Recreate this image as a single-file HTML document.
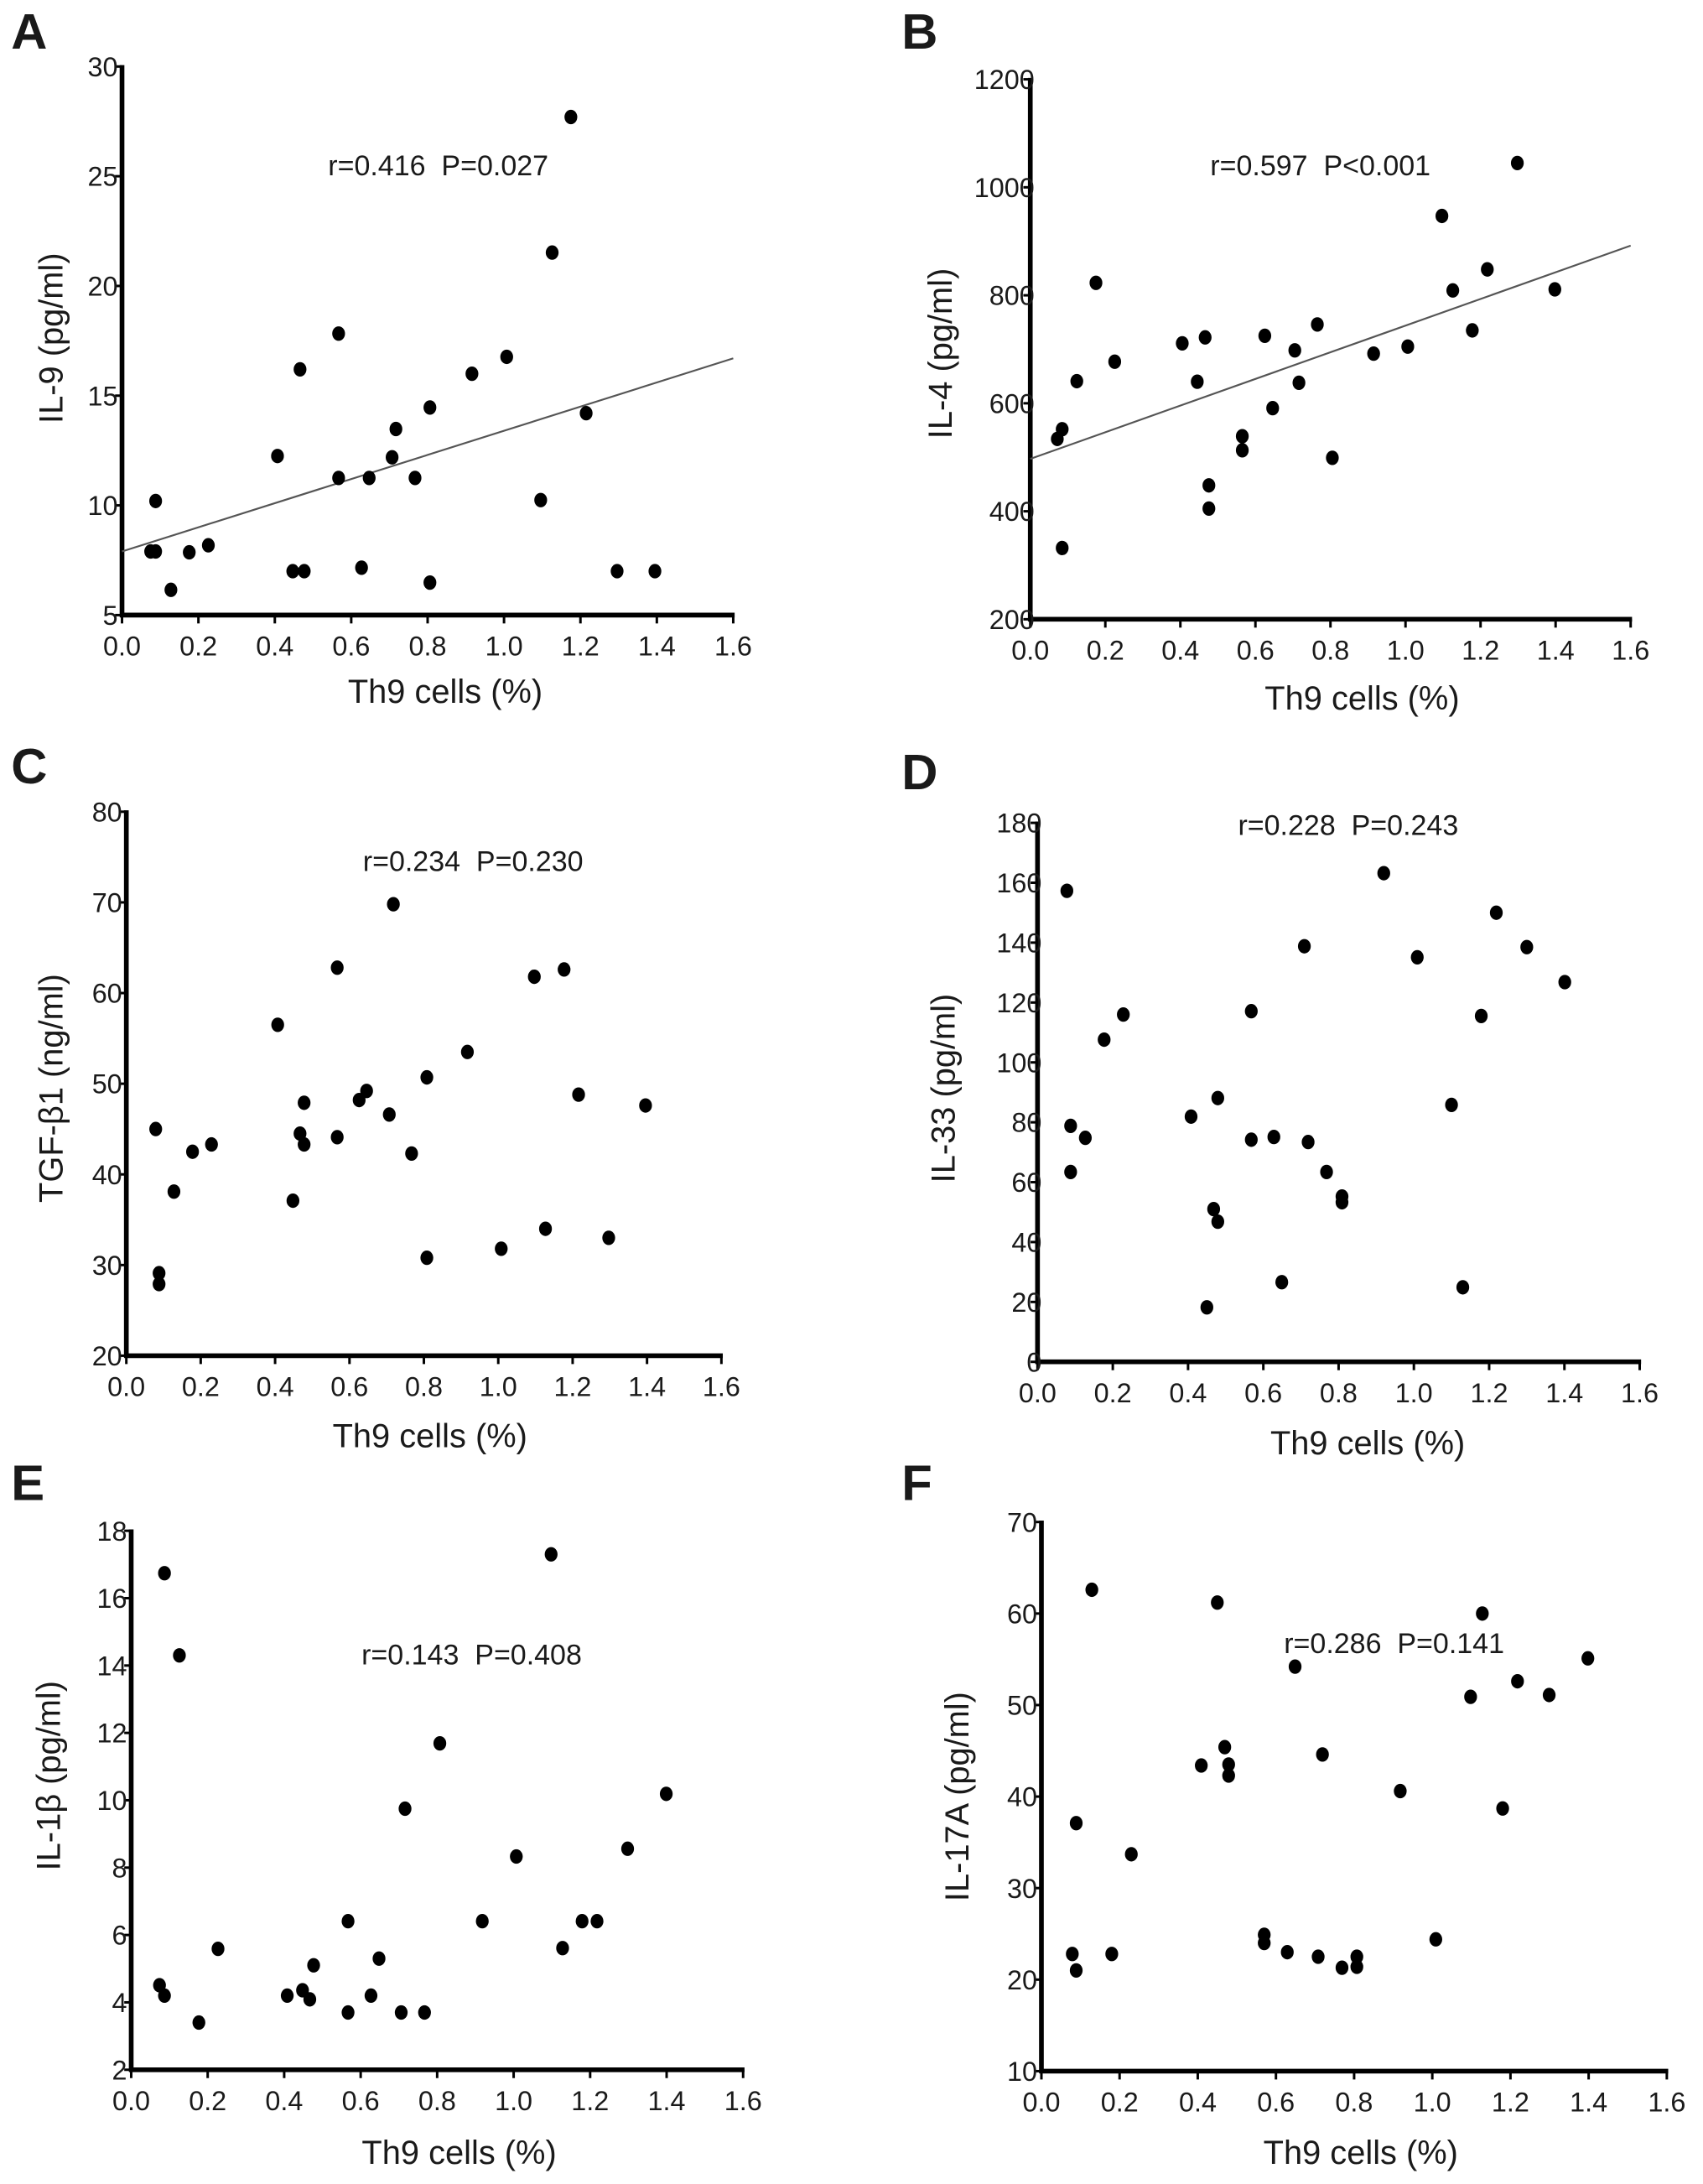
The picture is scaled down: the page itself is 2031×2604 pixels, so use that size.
<!DOCTYPE html>
<html><head><meta charset="utf-8"><style>
html,body{margin:0;padding:0;background:#fff;}
svg{display:block;}
text{font-family:"Liberation Sans",Arial,sans-serif;fill:#1a1a1a;}
.pre{white-space:pre;}
</style></head><body>
<svg id="fig" width="2031" height="2604" viewBox="0 0 1224 1569.4" preserveAspectRatio="none" xmlns="http://www.w3.org/2000/svg"></svg>
<script>
// ---- data ----
const xTicks = ["0.0","0.2","0.4","0.6","0.8","1.0","1.2","1.4","1.6"];

const aX = [0.075,0.088,0.088,0.128,0.176,0.226,0.407,0.447,0.477,0.466,0.567,0.567,0.627,0.647,0.707,0.717,0.767,0.806,0.806,0.916,1.007,1.096,1.126,1.175,1.215,1.296,1.395];
const aY = [7.9,7.9,10.2,6.15,7.86,8.18,12.25,7.0,7.0,16.2,17.83,11.25,7.16,11.25,12.19,13.48,11.25,14.46,6.48,16.0,16.77,10.24,21.52,27.7,14.2,7.0,7.0];
const aYTicks = [5,10,15,20,25,30];
const aLine = [7.9,16.7];

const bX = [0.072,0.085,0.085,0.124,0.175,0.225,0.405,0.445,0.466,0.476,0.476,0.565,0.565,0.625,0.646,0.705,0.716,0.765,0.805,0.915,1.006,1.097,1.126,1.178,1.218,1.298,1.398];
const bY = [534,552,332,641,823,677,711,640,722,448,405,539,513,725,591,698,638,746,499,692,705,947,809,735,848,1045,811];
const bYTicks = [200,400,600,800,1000,1200];
const bLine = [497,892];

const cX = [0.079,0.088,0.088,0.128,0.178,0.229,0.407,0.448,0.467,0.478,0.478,0.567,0.567,0.626,0.646,0.707,0.718,0.767,0.808,0.808,0.917,1.008,1.097,1.127,1.177,1.216,1.297,1.396];
const cY = [45.0,29.1,27.9,38.1,42.5,43.3,56.5,37.1,44.5,43.3,47.9,62.8,44.1,48.2,49.2,46.6,69.8,42.3,50.7,30.8,53.5,31.8,61.8,34.0,62.6,48.8,33.0,47.6];
const cYTicks = [20,30,40,50,60,70,80];

const dX = [0.078,0.088,0.088,0.127,0.177,0.228,0.408,0.450,0.468,0.479,0.479,0.568,0.568,0.628,0.649,0.709,0.719,0.768,0.809,0.809,0.920,1.009,1.100,1.130,1.179,1.219,1.300,1.401];
const dY = [157.3,78.8,63.4,74.8,107.6,116.0,81.9,18.2,51.0,88.1,46.8,117.1,74.2,75.1,26.6,138.8,73.4,63.4,55.2,53.3,163.2,135.1,85.8,24.9,115.5,150.0,138.5,126.8];
const dYTicks = [0,20,40,60,80,100,120,140,160,180];

const eX = [0.074,0.087,0.087,0.126,0.177,0.227,0.408,0.448,0.467,0.477,0.567,0.567,0.627,0.648,0.706,0.716,0.767,0.807,0.918,1.007,1.098,1.128,1.179,1.218,1.298,1.399];
const eY = [4.51,4.20,16.74,14.30,3.40,5.59,4.20,4.36,4.09,5.10,6.41,3.70,4.20,5.30,3.70,9.75,3.70,11.69,6.41,8.33,17.3,5.61,6.41,6.41,8.56,10.19];
const eYTicks = [2,4,6,8,10,12,14,16,18];

const fX = [0.079,0.089,0.089,0.129,0.180,0.230,0.409,0.450,0.469,0.479,0.479,0.570,0.570,0.629,0.649,0.708,0.719,0.769,0.807,0.807,0.918,1.009,1.098,1.128,1.180,1.218,1.299,1.398];
const fY = [22.8,37.1,21.0,62.6,22.8,33.7,43.4,61.2,45.4,43.5,42.3,24.9,24.0,23.0,54.2,22.5,44.6,21.3,22.5,21.4,40.6,24.4,50.9,60.0,38.7,52.6,51.1,55.1];
const fYTicks = [10,20,30,40,50,60,70];

// ---- layout ----
const NS = "http://www.w3.org/2000/svg";
const svg = document.getElementById('fig');
function mk(tag, attrs, parent){ const e=document.createElementNS(NS,tag); for(const k in attrs) e.setAttribute(k,attrs[k]); (parent||svg).appendChild(e); return e; }

const panels = [
 {id:'a',letter:'A',lx:8,ly:35,x0:87.7,x1:527,yT:47.8,yB:442,ymin:5,ymax:30,xs:aX,ys:aY,ticks:aYTicks,line:aLine,lab:'left',
  stat:'r=0.416  P=0.027',sx:315,sy:126,ytitle:'IL-9 (pg/ml)',ytx:45,yty:243,xtx:320,xty:505},
 {id:'b',letter:'B',lx:648,ly:35,x0:740.5,x1:1172,yT:57,yB:445,ymin:200,ymax:1200,xs:bX,ys:bY,ticks:bYTicks,line:bLine,lab:'over',
  stat:'r=0.597  P<0.001',sx:949,sy:126,ytitle:'IL-4 (pg/ml)',ytx:684,yty:254,xtx:979,xty:510},
 {id:'c',letter:'C',lx:8,ly:563,x0:90.8,x1:518.5,yT:583.3,yB:974.2,ymin:20,ymax:80,xs:cX,ys:cY,ticks:cYTicks,line:null,lab:'left',
  stat:'r=0.234  P=0.230',sx:340,sy:626,ytitle:'TGF-β1 (ng/ml)',ytx:45,yty:782,xtx:309,xty:1040},
 {id:'d',letter:'D',lx:648,ly:567,x0:745.7,x1:1178.5,yT:591.3,yB:978.6,ymin:0,ymax:180,xs:dX,ys:dY,ticks:dYTicks,line:null,lab:'over',
  stat:'r=0.228  P=0.243',sx:969,sy:600,ytitle:'IL-33 (pg/ml)',ytx:686,yty:782,xtx:983,xty:1045},
 {id:'e',letter:'E',lx:8,ly:1078,x0:94.3,x1:534.1,yT:1100,yB:1487.3,ymin:2,ymax:18,xs:eX,ys:eY,ticks:eYTicks,line:null,lab:'left',
  stat:'r=0.143  P=0.408',sx:339,sy:1196,ytitle:'IL-1β (pg/ml)',ytx:43,yty:1276,xtx:330,xty:1555},
 {id:'f',letter:'F',lx:648,ly:1078,x0:748.5,x1:1198,yT:1093.7,yB:1488.3,ymin:10,ymax:70,xs:fX,ys:fY,ticks:fYTicks,line:null,lab:'left',
  stat:'r=0.286  P=0.141',sx:1002,sy:1188,ytitle:'IL-17A (pg/ml)',ytx:696,yty:1291,xtx:978,xty:1555}
];

panels.forEach(p=>{
  const g = mk('g',{});
  
  
  const X = v => p.x0 + v/1.6*(p.x1-p.x0);
  const Y = v => p.yB - (v-p.ymin)/(p.ymax-p.ymin)*(p.yB-p.yT);

  const L = mk('text',{x:p.lx,y:p.ly,'font-size':36,'font-weight':'bold',fill:'#000'},g);
  L.textContent = p.letter;
  
  

  const ya = mk('line',{x1:p.x0,y1:p.yT-1,x2:p.x0,y2:p.yB+1.5,stroke:'#000','stroke-width':3.4},g);
  
  
  const xa = mk('line',{x1:p.x0-1.5,y1:p.yB,x2:p.x1+1,y2:p.yB,stroke:'#000','stroke-width':3.4},g);
  
  

  xTicks.forEach(t=>{
    const x = X(parseFloat(t));
    const tk = mk('line',{x1:x,y1:p.yB,x2:x,y2:p.yB+6,stroke:'#000','stroke-width':1.8},g);
    
    
    const tl = mk('text',{x:x,y:p.yB+29,'font-size':19.5,'text-anchor':'middle'},g);
    tl.textContent = t;
    
    
  });
  p.ticks.forEach(t=>{
    const y = Y(t);
    const tk = mk('line',{x1:p.x0-5,y1:y,x2:p.x0,y2:y,stroke:'#000','stroke-width':1.8},g);
    
    
    const ax = p.lab==='over' ? p.x0+3 : p.x0-3;
    const tl = mk('text',{x:ax,y:y+7,'font-size':19.5,'text-anchor':'end'},g);
    tl.textContent = String(t);
    
    
  });

  if(p.line){
    const rl = mk('line',{x1:X(0),y1:Y(p.line[0]),x2:X(1.6),y2:Y(p.line[1]),stroke:'#555','stroke-width':1.3},g);
    
    
  }

  p.xs.forEach((v,i)=>{
    const d = mk('ellipse',{cx:X(v),cy:Y(p.ys[i]),rx:4.6,ry:5.2,fill:'#000'},g);
    
    
  });

  const st = mk('text',{x:p.sx,y:p.sy,'font-size':20.5,'text-anchor':'middle','class':'pre'},g);
  st.textContent = p.stat;
  
  

  const xt = mk('text',{x:p.xtx,y:p.xty,'font-size':24,'text-anchor':'middle'},g);
  xt.textContent = 'Th9 cells (%)';
  
  

  const yt = mk('text',{x:0,y:0,'font-size':24,'text-anchor':'middle',transform:`translate(${p.ytx},${p.yty}) rotate(-90)`},g);
  yt.textContent = p.ytitle;
  
  
});
</script>
</body></html>
